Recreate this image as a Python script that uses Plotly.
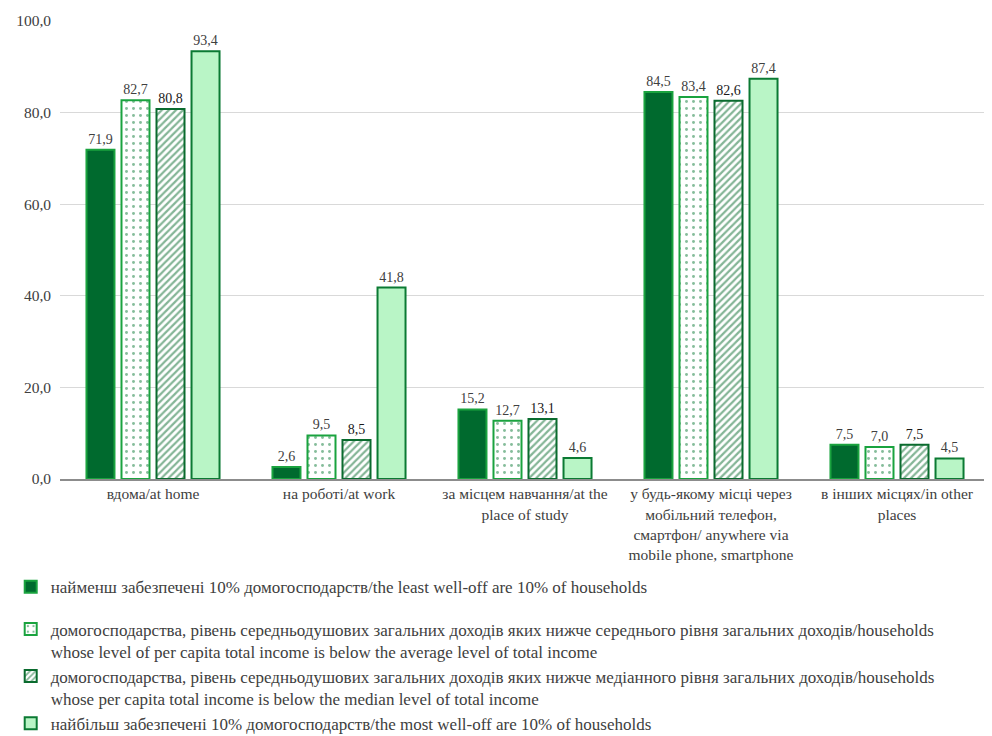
import plotly.graph_objects as go

categories = [
    "вдома/at home",
    "на роботі/at work",
    "за місцем навчання/at the<br>place of study",
    "у будь-якому місці через<br>мобільний телефон,<br>смартфон/ anywhere via<br>mobile phone, smartphone",
    "в інших місцях/in other<br>places",
]

least_10 = [71.9, 2.6, 15.2, 84.5, 7.5]
below_average = [82.7, 9.5, 12.7, 83.4, 7.0]
below_median = [80.8, 8.5, 13.1, 82.6, 7.5]
most_10 = [93.4, 41.8, 4.6, 87.4, 4.5]

series_names = [
    "найменш забезпечені 10% домогосподарств/the least well-off are 10% of households",
    "домогосподарства, рівень середньодушових загальних доходів яких нижче середнього рівня загальних доходів/households<br>whose level of per capita total income is below the average level of total income",
    "домогосподарства, рівень середньодушових загальних доходів яких нижче медіанного рівня загальних доходів/households<br>whose per capita total income is below the median level of total income",
    "найбільш забезпечені 10% домогосподарств/the most well-off are 10% of households",
]

y_ticks = [0, 20, 40, 60, 80, 100]

FONT = "Times New Roman, Liberation Serif, DejaVu Serif, serif"
GREY = "#404040"

fig = go.Figure()

styles = [
    dict(color="#006a2e", line=dict(color="#1aa33f", width=2)),
    dict(color="white", line=dict(color="#1aa33f", width=2),
         pattern=dict(shape=".", fgcolor="#0b7a35", bgcolor="white", size=7, solidity=0.14)),
    dict(color="white", line=dict(color="#0a6b2e", width=2),
         pattern=dict(shape="/", fgcolor="#0a6b2e", bgcolor="white", size=5, solidity=0.45)),
    dict(color="#b9f5c6", line=dict(color="#0b7a33", width=2)),
]
label_colors = [GREY, GREY, "#1a1a1a", GREY]
groups = ["g1", "g2", "g2", "g2"]

for name, vals, st, lc, g in zip(series_names, [least_10, below_average, below_median, most_10], styles, label_colors, groups):
    fig.add_trace(go.Bar(
        x=categories, y=vals, name=name,
        marker=st, legendgroup=g,
        texttemplate="%{y:.1f}", textposition="outside",
        textfont=dict(family=FONT, size=14, color=lc),
        cliponaxis=False,
    ))

fig.update_layout(
    width=984, height=728,
    margin=dict(l=52, r=2, t=13, b=257, autoexpand=False),
    paper_bgcolor="white", plot_bgcolor="white",
    barmode="group", bargap=0.247, bargroupgap=0.2,
    separators=", ",
    font=dict(family=FONT, size=15.5, color=GREY),
    showlegend=True,
    legend=dict(
        orientation="v", traceorder="grouped", valign="top",
        x=-0.053, xanchor="left", y=-0.197, yanchor="top",
        font=dict(family=FONT, size=17, color=GREY),
        itemwidth=30, tracegroupgap=17,
        bgcolor="rgba(0,0,0,0)",
    ),
    yaxis=dict(
        range=[0, 100], tickvals=y_ticks, tickformat=".1f",
        showgrid=True, gridcolor="#d9d9d9", gridwidth=1,
        zeroline=False, showline=False,
        ticks="", ticklabelstandoff=8,
        tickfont=dict(family=FONT, size=15.5, color=GREY),
    ),
    xaxis=dict(
        showline=True, linecolor="#8c8c8c", linewidth=1.5,
        ticks="", tickfont=dict(family=FONT, size=15.5, color=GREY),
        ticklabelstandoff=0,
    ),
)

fig.write_html("out.html")
